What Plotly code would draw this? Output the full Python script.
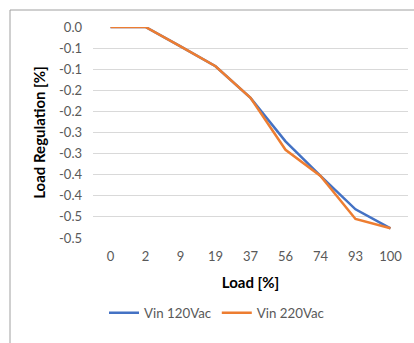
import plotly.graph_objects as go

# Load steps (%) and load regulation (%) for both input voltages
load_pct = ["0", "2", "9", "19", "37", "56", "74", "93", "100"]
reg_120vac = [0.0, 0.0, -0.046, -0.093, -0.168, -0.271, -0.353, -0.432, -0.477]
reg_220vac = [0.0, 0.0, -0.046, -0.093, -0.168, -0.291, -0.353, -0.455, -0.477]

y_tick_vals = [0.0, -0.05, -0.1, -0.15, -0.2, -0.25, -0.3, -0.35, -0.4, -0.45, -0.5]
y_tick_text = ["0.0", "-0.1", "-0.1", "-0.2", "-0.2", "-0.3", "-0.3", "-0.4", "-0.4", "-0.5", "-0.5"]

BLUE = "#4472C4"
ORANGE = "#ED7D31"
FONT = "Lato"

W, H = 414, 343
ML, MR, MT, MB = 93, 6, 27, 105
PW, PH = W - ML - MR, H - MT - MB

fig = go.Figure()
fig.add_trace(go.Scatter(x=load_pct, y=reg_120vac, mode="lines", name="Vin 120Vac",
                         line=dict(color=BLUE, width=2.5)))
fig.add_trace(go.Scatter(x=load_pct, y=reg_220vac, mode="lines", name="Vin 220Vac",
                         line=dict(color=ORANGE, width=2.5)))

# chart-area frame (top and left edges)
frame_x = (10 - ML) / PW
frame_y = 1 + (MT - 10) / PH
fig.add_shape(type="line", xref="paper", yref="paper", x0=frame_x, x1=1.2,
              y0=frame_y, y1=frame_y, line=dict(color="#A0A0A0", width=1))
fig.add_shape(type="line", xref="paper", yref="paper", x0=frame_x, x1=frame_x,
              y0=frame_y, y1=-0.7, line=dict(color="#A0A0A0", width=1))

fig.update_layout(
    width=W, height=H,
    margin=dict(l=ML, r=MR, t=MT, b=MB),
    paper_bgcolor="white", plot_bgcolor="white",
    font=dict(family=FONT, size=13, color="#595959"),
    showlegend=True,
    legend=dict(orientation="h", x=(217 - ML) / PW, xanchor="center",
                y=(PH - (313 - MT)) / PH, yanchor="middle",
                font=dict(family=FONT, size=13.3, color="#595959"),
                itemwidth=30, tracegroupgap=0),
    xaxis=dict(type="category", range=[-0.5, 8.5], showgrid=False, zeroline=False,
               showline=False, ticks="", ticklabelstandoff=9,
               title=dict(text="Load [%]", standoff=14,
                          font=dict(family=FONT, size=15, color="#000000", weight="bold"))),
    yaxis=dict(range=[-0.5, 0.0], tickvals=y_tick_vals, ticktext=y_tick_text,
               showgrid=True, gridcolor="#D9D9D9", gridwidth=1, zeroline=False,
               showline=False, ticks="", ticklabelstandoff=10,
               title=dict(text="Load Regulation [%]", standoff=9,
                          font=dict(family=FONT, size=15, color="#000000", weight="bold"))),
)

fig.write_html("out.html")
